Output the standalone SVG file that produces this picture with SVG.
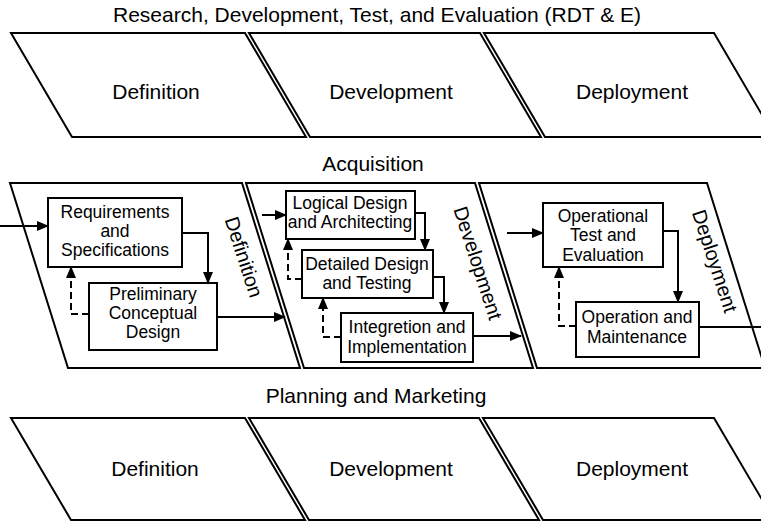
<svg xmlns="http://www.w3.org/2000/svg" width="761" height="521" viewBox="0 0 761 521">
  <style>
    .phase { fill: #fff; stroke: #000; stroke-width: 2; stroke-linejoin: miter; }
    .box { fill: #fff; stroke: #000; stroke-width: 2; }
    .head { font-family: "Liberation Sans", Arial, sans-serif; font-size: 21px; fill: #000; text-anchor: middle; }
    .lbl { font-family: "Liberation Sans", Arial, sans-serif; font-size: 21px; fill: #000; text-anchor: middle; }
    .vlbl { font-family: "Liberation Sans", Arial, sans-serif; font-size: 20px; fill: #000; text-anchor: middle; dominant-baseline: central; }
    .btxt { font-family: "Liberation Sans", Arial, sans-serif; font-size: 17.5px; fill: #000; text-anchor: middle; }
    .flow { fill: none; stroke: #000; stroke-width: 2; }
    .back { fill: none; stroke: #000; stroke-width: 2; stroke-dasharray: 7 4; }
  </style>
  <defs>
    <marker id="arrow" markerWidth="12" markerHeight="10" refX="11" refY="5" orient="auto" markerUnits="userSpaceOnUse">
      <path d="M0,0 L12,5 L0,10 Z" fill="#000"/>
    </marker>
  </defs>

  <rect width="761" height="521" fill="#fff"/>

  <!-- RDT&E band -->
  <text class="head" x="377" y="22">Research, Development, Test, and Evaluation (RDT &amp; E)</text>
  <g id="rdte-definition">
    <polygon class="phase" points="11,33 245,33 306,137 72,137"/>
    <text class="lbl" x="156" y="99">Definition</text>
  </g>
  <g id="rdte-development">
    <polygon class="phase" points="249,33 480,33 541,137 310,137"/>
    <text class="lbl" x="391" y="99">Development</text>
  </g>
  <g id="rdte-deployment">
    <polygon class="phase" points="484,33 714,33 775,137 545,137"/>
    <text class="lbl" x="632" y="99">Deployment</text>
  </g>

  <!-- Acquisition band -->
  <text class="head" x="373" y="171">Acquisition</text>
  <g id="acq-definition">
    <polygon class="phase" points="10,183 242,183 300,368 68,368"/>
    <text class="vlbl" transform="translate(244,257) rotate(72)">Definition</text>
  </g>
  <g id="acq-development">
    <polygon class="phase" points="246,183 475,183 533,368 304,368"/>
    <text class="vlbl" transform="translate(478,263) rotate(72)">Development</text>
  </g>
  <g id="acq-deployment">
    <polygon class="phase" points="479,183 707,183 765,368 537,368"/>
    <text class="vlbl" transform="translate(715,261) rotate(72)">Deployment</text>
  </g>

  <g id="requirements">
    <rect class="box" x="48" y="198" width="134" height="69"/>
    <text class="btxt" x="115" y="218">Requirements</text>
    <text class="btxt" x="115" y="237">and</text>
    <text class="btxt" x="115" y="256">Specifications</text>
  </g>
  <g id="preliminary">
    <rect class="box" x="89" y="283" width="128" height="67"/>
    <text class="btxt" x="153" y="300">Preliminary</text>
    <text class="btxt" x="153" y="319">Conceptual</text>
    <text class="btxt" x="153" y="338">Design</text>
  </g>
  <g id="logical">
    <rect class="box" x="286" y="191" width="129" height="48"/>
    <text class="btxt" x="350" y="209">Logical Design</text>
    <text class="btxt" x="350" y="228">and Architecting</text>
  </g>
  <g id="detailed">
    <rect class="box" x="302" y="250" width="131" height="48"/>
    <text class="btxt" x="367" y="270">Detailed Design</text>
    <text class="btxt" x="367" y="289">and Testing</text>
  </g>
  <g id="integration">
    <rect class="box" x="341" y="313" width="132" height="49"/>
    <text class="btxt" x="407" y="333">Integretion and</text>
    <text class="btxt" x="407" y="353">Implementation</text>
  </g>
  <g id="operational-test">
    <rect class="box" x="543" y="203" width="120" height="64"/>
    <text class="btxt" x="603" y="222">Operational</text>
    <text class="btxt" x="603" y="241">Test and</text>
    <text class="btxt" x="603" y="261">Evaluation</text>
  </g>
  <g id="operation">
    <rect class="box" x="576" y="302" width="123" height="55"/>
    <text class="btxt" x="637" y="323">Operation and</text>
    <text class="btxt" x="637" y="343">Maintenance</text>
  </g>

  <!-- Planning and Marketing band -->
  <text class="head" x="376" y="403">Planning and Marketing</text>
  <g id="pm-definition">
    <polygon class="phase" points="11,418 245,418 305,520 71,520"/>
    <text class="lbl" x="155" y="476">Definition</text>
  </g>
  <g id="pm-development">
    <polygon class="phase" points="249,418 479,418 539,520 309,520"/>
    <text class="lbl" x="391" y="476">Development</text>
  </g>
  <g id="pm-deployment">
    <polygon class="phase" points="483,418 714,418 774,520 543,520"/>
    <text class="lbl" x="632" y="476">Deployment</text>
  </g>

  <g id="connectors">
    <!-- definition stage -->
    <path class="flow" d="M0,226 H48" marker-end="url(#arrow)"/>
    <path class="flow" d="M182,233 H208 V283" marker-end="url(#arrow)"/>
    <path class="back" d="M89,314 H71 V267" marker-end="url(#arrow)"/>
    <path class="flow" d="M217,317 H285" marker-end="url(#arrow)"/>
    <!-- development stage -->
    <path class="flow" d="M262,215 H286" marker-end="url(#arrow)"/>
    <path class="flow" d="M415,213 H425 V250" marker-end="url(#arrow)"/>
    <path class="back" d="M302,279 H288 V239" marker-end="url(#arrow)"/>
    <path class="flow" d="M433,277 H444 V313" marker-end="url(#arrow)"/>
    <path class="back" d="M341,337 H323 V298" marker-end="url(#arrow)"/>
    <path class="flow" d="M473,336 H521" marker-end="url(#arrow)"/>
    <!-- deployment stage -->
    <path class="flow" d="M507,233 H543" marker-end="url(#arrow)"/>
    <path class="flow" d="M663,231 H678 V302" marker-end="url(#arrow)"/>
    <path class="back" d="M576,326 H559 V267" marker-end="url(#arrow)"/>
    <path class="flow" d="M699,327 H761"/>
  </g>
</svg>
